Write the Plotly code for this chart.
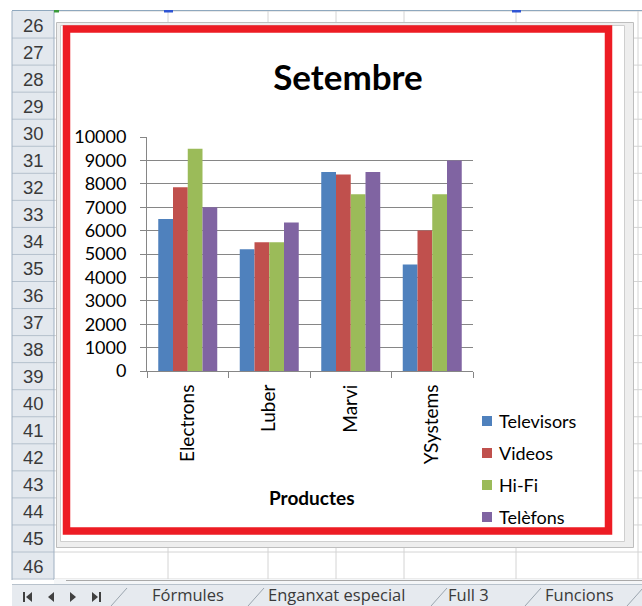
import plotly.graph_objects as go

# ---- data -------------------------------------------------------------
productes = ["Electrons", "Luber", "Marvi", "YSystems"]
series_names = ["Televisors", "Videos", "Hi-Fi", "Telèfons"]
televisors = [6500, 5200, 8500, 4550]
videos = [7850, 5500, 8400, 6000]
hifi = [9500, 5500, 7550, 7550]
telefons = [7000, 6350, 8500, 9000]
y_ticks = list(range(0, 10001, 1000))
row_numbers = list(range(26, 47))
sheet_tabs = ["Fórmules", "Enganxat especial", "Full 3", "Funcions"]

series_values = [televisors, videos, hifi, telefons]
colors = ["#4F81BD", "#C0504D", "#9BBB59", "#8064A2"]

W, H = 642, 606


def px(x):
    return x / W


def py(y):
    return 1 - y / H


def rect(x0, y0, x1, y1, fill=None, line=None, lw=1, layer="below"):
    return dict(type="rect", xref="paper", yref="paper",
                x0=px(x0), x1=px(x1), y0=py(y1), y1=py(y0),
                fillcolor=fill if fill else "rgba(0,0,0,0)",
                line=dict(color=line if line else "rgba(0,0,0,0)", width=lw if line else 0),
                layer=layer)


def hline(x0, x1, y, color, lw=1):
    return dict(type="line", xref="paper", yref="paper",
                x0=px(x0), x1=px(x1), y0=py(y), y1=py(y),
                line=dict(color=color, width=lw), layer="below")


def vline(x, y0, y1, color, lw=1):
    return dict(type="line", xref="paper", yref="paper",
                x0=px(x), x1=px(x), y0=py(y0), y1=py(y1),
                line=dict(color=color, width=lw), layer="below")


def tri(points, color):
    path = "M " + " L ".join(f"{px(a)},{py(b)}" for a, b in points) + " Z"
    return dict(type="path", xref="paper", yref="paper", path=path,
                fillcolor=color, line=dict(width=0), layer="below")


fig = go.Figure()
for name, vals, col in zip(series_names, series_values, colors):
    fig.add_trace(go.Bar(x=productes, y=vals, name=name, marker_color=col,
                         marker_line_width=0, showlegend=False))

shapes = []
annotations = []

# ---- worksheet backdrop ------------------------------------------------
ROW_TOP = 11
ROW_H = 27.05
grid_col = "#D4D4D4"
for i in range(len(row_numbers) + 1):
    shapes.append(hline(54, W, ROW_TOP + i * ROW_H, grid_col))
for cx in [168, 268, 336, 404, 516, 638]:
    shapes.append(vline(cx, ROW_TOP, ROW_TOP + len(row_numbers) * ROW_H, grid_col))

# row header column
shapes.append(rect(12, ROW_TOP, 54, ROW_TOP + len(row_numbers) * ROW_H, fill="#E3E8EE"))
for i, r in enumerate(row_numbers):
    top = ROW_TOP + i * ROW_H
    shapes.append(hline(12, 54, top + ROW_H, "#B4C0CC"))
    annotations.append(dict(xref="paper", yref="paper", x=px(33), y=py(top + ROW_H / 2 + 0.5),
                            text=str(r), showarrow=False, xanchor="center", yanchor="middle",
                            font=dict(family="Liberation Sans", size=18.5, color="#3A3A3A")))
shapes.append(vline(12, ROW_TOP, 580, "#9FB0C2"))
shapes.append(vline(54, ROW_TOP, 580, "#9FB0C2"))
shapes.append(hline(12, W, 10.5, "#8FA8BE"))
# selection markers on the top edge
shapes.append(rect(54, 10, 59, 12.5, fill="#3A9A3A"))
shapes.append(rect(164, 10, 173, 12.5, fill="#2F55D4"))
shapes.append(rect(512, 10, 521, 12.5, fill="#2F55D4"))

# horizontal scroll strip and sheet tab bar
shapes.append(rect(54, 579, W, 584, fill="#F4F6F8"))
shapes.append(hline(66, W, 580.5, "#A9A9A9"))
shapes.append(rect(12, 584, W, H, fill="#E6EAEF"))
shapes.append(hline(12, W, 584.5, "#B8C2CC"))
nav_y = 597
shapes.append(vline(24, nav_y - 5, nav_y + 5, "#404040", 2))
shapes.append(tri([(26, nav_y), (32, nav_y - 5), (32, nav_y + 5)], "#404040"))
shapes.append(tri([(48, nav_y), (54, nav_y - 5), (54, nav_y + 5)], "#404040"))
shapes.append(tri([(76, nav_y), (70, nav_y - 5), (70, nav_y + 5)], "#404040"))
shapes.append(tri([(98, nav_y), (92, nav_y - 5), (92, nav_y + 5)], "#404040"))
shapes.append(vline(100, nav_y - 5, nav_y + 5, "#404040", 2))
tab_x = [150, 266, 446, 543]
for sx in [119, 256, 439, 533, 635]:
    shapes.append(dict(type="line", xref="paper", yref="paper",
                       x0=px(sx - 8), x1=px(sx + 8), y0=py(H), y1=py(588),
                       line=dict(color="#9AA4AE", width=1), layer="below"))
for name, tx in zip(sheet_tabs, tab_x):
    annotations.append(dict(xref="paper", yref="paper", x=px(tx), y=py(594.5),
                            text=name, showarrow=False, xanchor="left", yanchor="middle",
                            font=dict(family="Open Sans", size=16.5, color="#3A3A3A")))

# ---- chart object frame ----------------------------------------------
shapes.append(rect(56.5, 22.5, 633.5, 547.5, fill="#EEEEEE", line="#BEBEBE"))
shapes.append(rect(60.5, 25.5, 624.5, 541.5, fill="#FFFFFF", line="#CFCFCF"))
shapes.append(rect(66.5, 29, 608.5, 531, line="#ED1C24", lw=7.5))

# ---- legend drawn beside the plot --------------------------------------
leg_y = [421, 453, 485, 517]
for name, col, ly in zip(series_names, colors, leg_y):
    shapes.append(rect(482, ly - 5, 492, ly + 5, fill=col))
    annotations.append(dict(xref="paper", yref="paper", x=px(497), y=py(ly),
                            text=name, showarrow=False, xanchor="left", yanchor="middle",
                            font=dict(family="Lato", size=18, color="#000000")))

# axis title
annotations.append(dict(xref="paper", yref="paper", x=px(311), y=py(497),
                        text="<b>Productes</b>", showarrow=False, xanchor="center",
                        yanchor="middle", font=dict(family="Lato", size=19, color="#000000")))

axis_col = "#868686"
fig.update_layout(
    width=W, height=H,
    margin=dict(l=0, r=0, t=0, b=0, pad=0, autoexpand=False),
    paper_bgcolor="#FFFFFF",
    plot_bgcolor="rgba(0,0,0,0)",
    barmode="group",
    bargap=0.276,
    bargroupgap=0,
    showlegend=False,
    title=dict(text="<b>Setembre</b>", x=px(348), y=py(78), xref="paper", yref="paper",
               xanchor="center", yanchor="middle", automargin=False,
               font=dict(family="Lato", size=35, color="#000000")),
    xaxis=dict(domain=[px(147), px(473)], showline=True, linecolor=axis_col, linewidth=1,
               ticks="outside", ticklen=6, tickcolor=axis_col, tickson="boundaries",
               tickangle=-90, showgrid=False, ticklabelstandoff=5, automargin=False,
               tickfont=dict(family="Lato", size=19, color="#000000")),
    yaxis=dict(domain=[py(371), py(137)], range=[0, 10000], tickvals=y_ticks,
               tickformat="d", automargin=False,
               showline=True, linecolor=axis_col, linewidth=1,
               ticks="outside", ticklen=6, tickcolor=axis_col,
               showgrid=True, gridcolor=axis_col, gridwidth=1, zeroline=False,
               ticklabelstandoff=10,
               tickfont=dict(family="Lato", size=18, color="#000000")),
    shapes=shapes,
    annotations=annotations,
)

fig.write_html("out.html")
